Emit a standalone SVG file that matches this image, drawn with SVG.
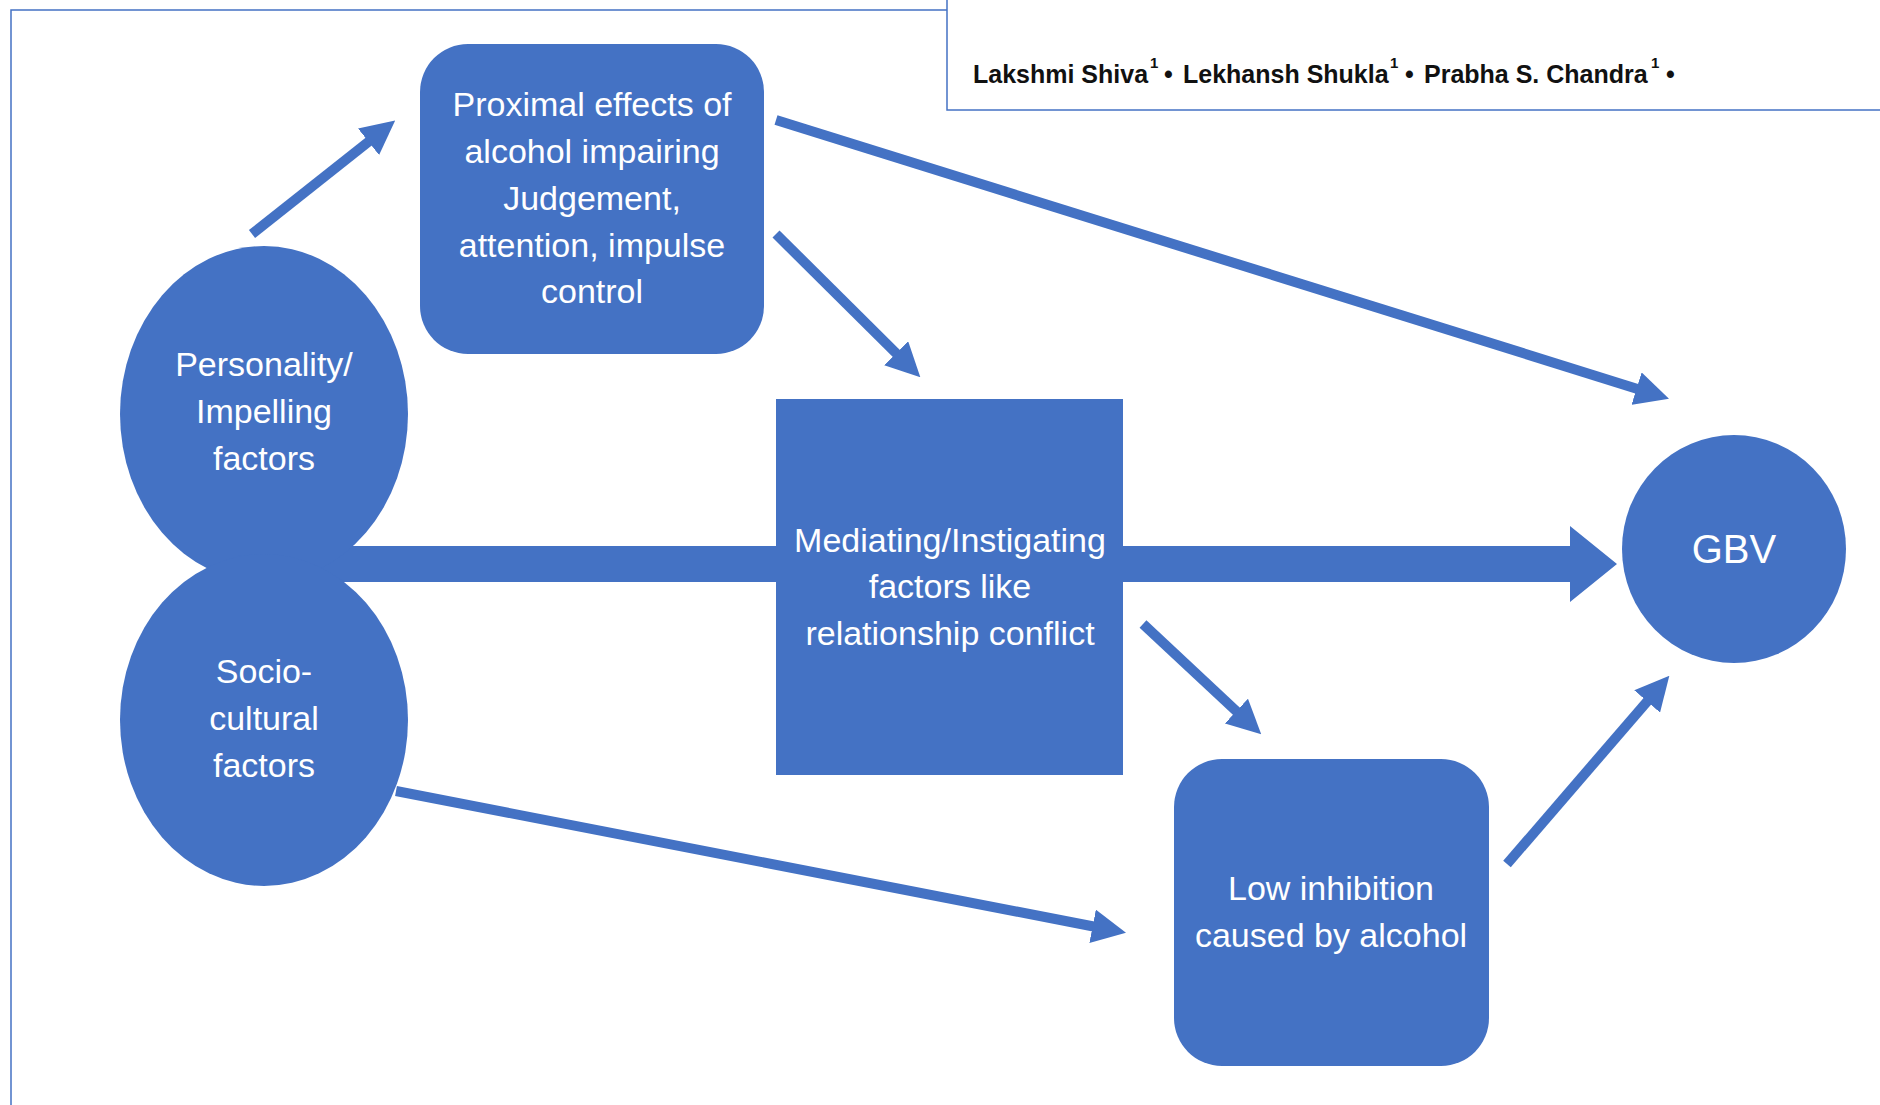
<svg xmlns="http://www.w3.org/2000/svg" width="1880" height="1105" viewBox="0 0 1880 1105">
<style>
.n{fill:#4472C4}
.t{font-family:"Liberation Sans",Arial,sans-serif;font-size:34px;fill:#fff;text-anchor:middle}
.c{stroke:#4472C4;stroke-width:10;fill:none;marker-end:url(#ah)}
.au{font-family:"Liberation Sans",Arial,sans-serif;font-size:25px;font-weight:bold;fill:#111}
.sup{font-size:15px}
</style>
<defs>
<marker id="ah" markerUnits="userSpaceOnUse" viewBox="0 -17 34 34" markerWidth="34" markerHeight="34" refX="1" refY="0" orient="auto">
<path d="M0,-17 L34,0 L0,17 Z" fill="#4472C4"/>
</marker>
</defs>
<rect width="1880" height="1105" fill="#fff"/>
<path d="M11,1105 V10 H947" fill="none" stroke="#4472C4" stroke-width="1.5"/>
<g id="header">
<rect x="947" y="-5" width="940" height="115" fill="#fff" stroke="#4472C4" stroke-width="1.5"/>
<text class="au" y="83"><tspan x="973">Lakshmi Shiva</tspan><tspan class="sup" x="1150" y="68">1</tspan><tspan x="1164" y="83">•</tspan><tspan x="1183">Lekhansh Shukla</tspan><tspan class="sup" x="1390" y="68">1</tspan><tspan x="1405" y="83">•</tspan><tspan x="1424">Prabha S. Chandra</tspan><tspan class="sup" x="1651" y="68">1</tspan><tspan x="1666" y="83">•</tspan></text>
</g>
<g id="connectors">
<path d="M268,546 H1570 V526 L1617,564 L1570,602 V582 H268 Z" fill="#4472C4"/>
<line class="c" x1="252" y1="234" x2="369.3" y2="141.1"/>
<line class="c" x1="776" y1="120" x2="1637.5" y2="388.9"/>
<line class="c" x1="776" y1="234" x2="896.9" y2="354"/>
<line class="c" x1="1143" y1="624" x2="1237.1" y2="711.8"/>
<line class="c" x1="396" y1="791" x2="1093.6" y2="926.5"/>
<line class="c" x1="1507" y1="864" x2="1647.8" y2="700.7"/>
</g>
<g id="personality">
<ellipse class="n" cx="264" cy="414" rx="144" ry="168"/>
<text class="t"><tspan x="264" y="376">Personality/</tspan><tspan x="264" y="423">Impelling</tspan><tspan x="264" y="470">factors</tspan></text>
</g>
<g id="sociocultural">
<ellipse class="n" cx="264" cy="720" rx="144" ry="166"/>
<text class="t"><tspan x="264" y="683">Socio-</tspan><tspan x="264" y="730">cultural</tspan><tspan x="264" y="777">factors</tspan></text>
</g>
<g id="proximal">
<rect class="n" x="420" y="44" width="344" height="310" rx="48" ry="48"/>
<text class="t"><tspan x="592" y="116">Proximal effects of</tspan><tspan x="592" y="163">alcohol impairing</tspan><tspan x="592" y="210">Judgement,</tspan><tspan x="592" y="257">attention, impulse</tspan><tspan x="592" y="303">control</tspan></text>
</g>
<g id="mediating">
<rect class="n" x="776" y="399" width="347" height="376"/>
<text class="t"><tspan x="950" y="552">Mediating/Instigating</tspan><tspan x="950" y="598">factors like</tspan><tspan x="950" y="645">relationship conflict</tspan></text>
</g>
<g id="lowinhibition">
<rect class="n" x="1174" y="759" width="315" height="307" rx="48" ry="48"/>
<text class="t"><tspan x="1331" y="900">Low inhibition</tspan><tspan x="1331" y="947">caused by alcohol</tspan></text>
</g>
<g id="gbv">
<ellipse class="n" cx="1734" cy="549" rx="112" ry="114"/>
<text class="t" x="1734" y="563" style="font-size:40px">GBV</text>
</g>
</svg>
